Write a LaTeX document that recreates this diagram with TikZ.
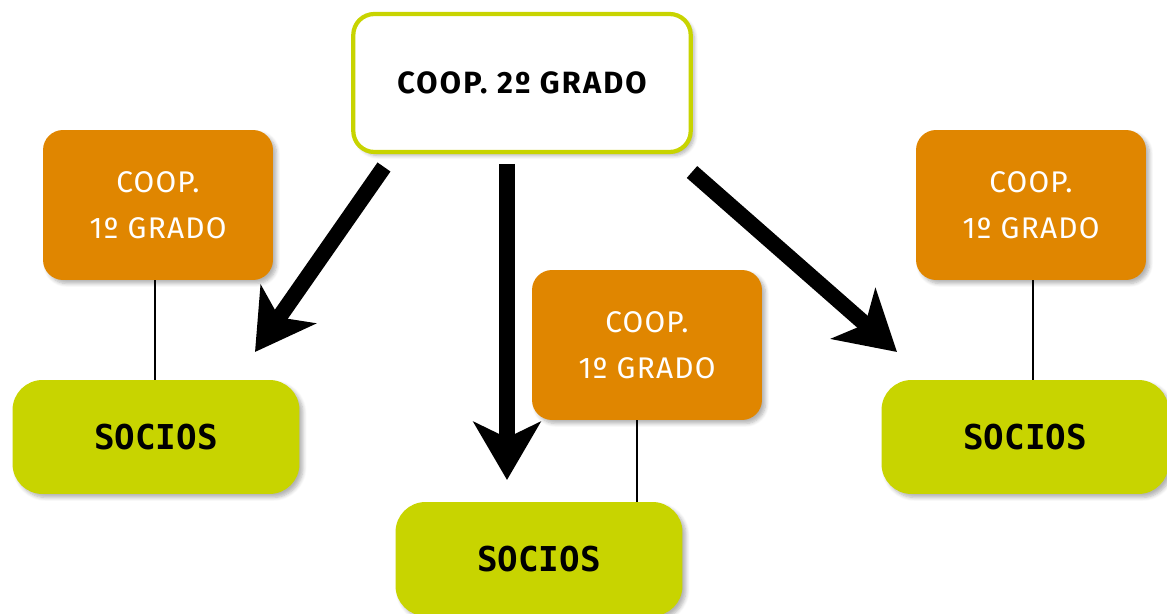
\documentclass[tikz,border=0pt]{standalone}
\usepackage{fontspec}
\setmainfont{Fira Sans}
\newfontfamily\monob{DejaVu Sans Mono}
\usetikzlibrary{arrows.meta,shadows.blur}
\definecolor{cooporange}{RGB}{224,134,0}
\definecolor{cooplime}{RGB}{200,212,0}
\tikzset{
  shade/.style={blur shadow={shadow blur steps=6,shadow xshift=2pt,shadow yshift=-2pt,shadow opacity=30}},
  topbox/.style={draw=cooplime,line width=2.4pt,fill=white,rounded corners=0.42cm,
    minimum width=6.75cm,minimum height=2.76cm,shade,
    font=\fontsize{17.5}{20}\selectfont\bfseries\addfontfeature{LetterSpace=7}},
  firstbox/.style={fill=cooporange,rounded corners=0.4cm,minimum width=4.6cm,minimum height=3.0cm,
    text=white,align=center,shade,font=\fontsize{17}{26}\selectfont\addfontfeature{LetterSpace=4}},
  sociobox/.style={fill=cooplime,rounded corners=0.6cm,minimum width=5.74cm,minimum height=2.28cm,
    shade,font=\fontsize{19.5}{22}\selectfont\monob\bfseries},
  bigarrow/.style={line width=9pt,-{Stealth[length=33pt,width=38pt,inset=9pt]}},
  link/.style={line width=1.2pt}
}
\begin{document}
\begin{tikzpicture}[x=0.02cm,y=-0.02cm]
\useasboundingbox (0,0) rectangle (1167,614);
% first-degree cooperatives
\node[firstbox] (o1) at (158,205) {COOP.\\1º GRADO};
\node[firstbox] (o2) at (647,345) {COOP.\\1º GRADO};
\node[firstbox] (o3) at (1031,205) {COOP.\\1º GRADO};
% socios
\node[sociobox] (s1) at (156,437) {SOCIOS};
\node[sociobox] (s2) at (539,559) {SOCIOS};
\node[sociobox] (s3) at (1025,437) {SOCIOS};
% links
\draw[link] (o1.south -| 155,0) -- (s1.north -| 155,0);
\draw[link] (o2.south -| 637,0) -- (s2.north -| 637,0);
\draw[link] (o3.south -| 1033,0) -- (s3.north -| 1033,0);
% top box
\node[topbox] (top) at (522,83) {COOP. 2º GRADO};
% arrows
\coordinate (a1s) at (384,167);
\coordinate (a1e) at (255,352);
\coordinate (a2s) at (507,164);
\coordinate (a2e) at (507,480);
\coordinate (a3s) at (692,172);
\coordinate (a3e) at (897,352);
\draw[bigarrow] (a1s) -- (a1e);
\draw[bigarrow] (a2s) -- (a2e);
\draw[bigarrow] (a3s) -- (a3e);
\end{tikzpicture}
\end{document}
